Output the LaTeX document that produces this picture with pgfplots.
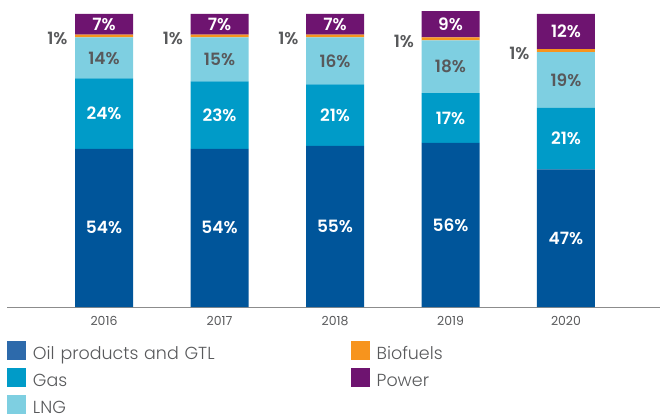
\documentclass[border=0pt]{standalone}
\usepackage{pgfplots}
\pgfplotsset{compat=1.18}
\usepackage{pgfplotstable}
\usepackage{fontspec}
\setmainfont{Poppins}[BoldFont={* SemiBold}]
\newfontfamily\legfont{Poppins Light}
\definecolor{oil}{HTML}{00559A}
\definecolor{oilleg}{HTML}{2D6AAB}
\definecolor{gas}{HTML}{009BC8}
\definecolor{lng}{HTML}{7ECFE1}
\definecolor{bio}{HTML}{F7941D}
\definecolor{power}{HTML}{6E1470}
\definecolor{txt}{HTML}{58595B}
\pgfplotstableread{
x oil gas lng bio power
0 54 24 14 1 7
1 54 23 15 1 7
2 55 21 16 1 7
3 56 17 18 1 9
4 47 21 19 1 12
}\data
\pgfplotsset{legsq/.style={legend image code/.code={\path[fill=none, draw=none] (0,-7.5bp) rectangle (26bp,19.5bp); \fill[##1] (0,-0.5bp) rectangle (19bp,18.5bp);}}}
\begin{document}
\begin{tikzpicture}
\path[use as bounding box] (0,0) rectangle (661bp,414bp);
\begin{axis}[
  at={(7bp,107bp)}, anchor=south west,
  scale only axis, width=653bp, height=293bp,
  xmin=-0.84, xmax=4.814, ymin=0, ymax=100,
  clip=false,
  hide y axis,
  axis x line=bottom,
  x axis line style={-, draw=black!45, line width=0.8bp},
  ybar stacked, bar width=58bp,
  xtick=data, xticklabels={2016,2017,2018,2019,2020},
  major tick length=0pt,
  xticklabel style={font=\fontsize{12.5}{12.5}\selectfont, text=txt, anchor=base, yshift=-18.5bp},
  point meta=explicit symbolic,
  nodes near coords={\pgfplotspointmeta\%},
  every node near coord/.append style={anchor=center, font=\fontsize{17}{17}\selectfont\bfseries, text=white},
  legend columns=2,
  legend style={at={(0,-0.112)}, anchor=north west, draw=none, fill=none, inner sep=0pt, outer sep=0pt,
    row sep=0pt, column sep=0pt, font=\legfont\fontsize{17.5}{18}\selectfont, text=txt,
    nodes={inner sep=0pt, anchor=base west},
    /tikz/column 2/.style={text width=317.7bp}},
]
\addplot[fill=oil, draw=none, forget plot] table[x=x, y=oil, meta=oil] {\data};
\addplot[fill=gas, draw=none, forget plot] table[x=x, y=gas, meta=gas] {\data};
\addplot[fill=lng, draw=none, forget plot,
  every node near coord/.append style={text=txt}] table[x=x, y=lng, meta=lng] {\data};
\addplot[fill=bio, draw=none, forget plot,
  every node near coord/.append style={anchor=east, xshift=-33bp, yshift=-2.5bp, text=txt}] table[x=x, y=bio, meta=bio] {\data};
\addplot[fill=power, draw=none, forget plot] table[x=x, y=power, meta=power] {\data};
\addlegendimage{legsq, fill=oilleg, draw=none}
\addlegendentry{Oil products and GTL}
\addlegendimage{legsq, fill=bio, draw=none}
\addlegendentry{Biofuels}
\addlegendimage{legsq, fill=gas, draw=none}
\addlegendentry{Gas}
\addlegendimage{legsq, fill=power, draw=none}
\addlegendentry{Power}
\addlegendimage{legsq, fill=lng, draw=none}
\addlegendentry{LNG}
\end{axis}
\end{tikzpicture}
\end{document}
